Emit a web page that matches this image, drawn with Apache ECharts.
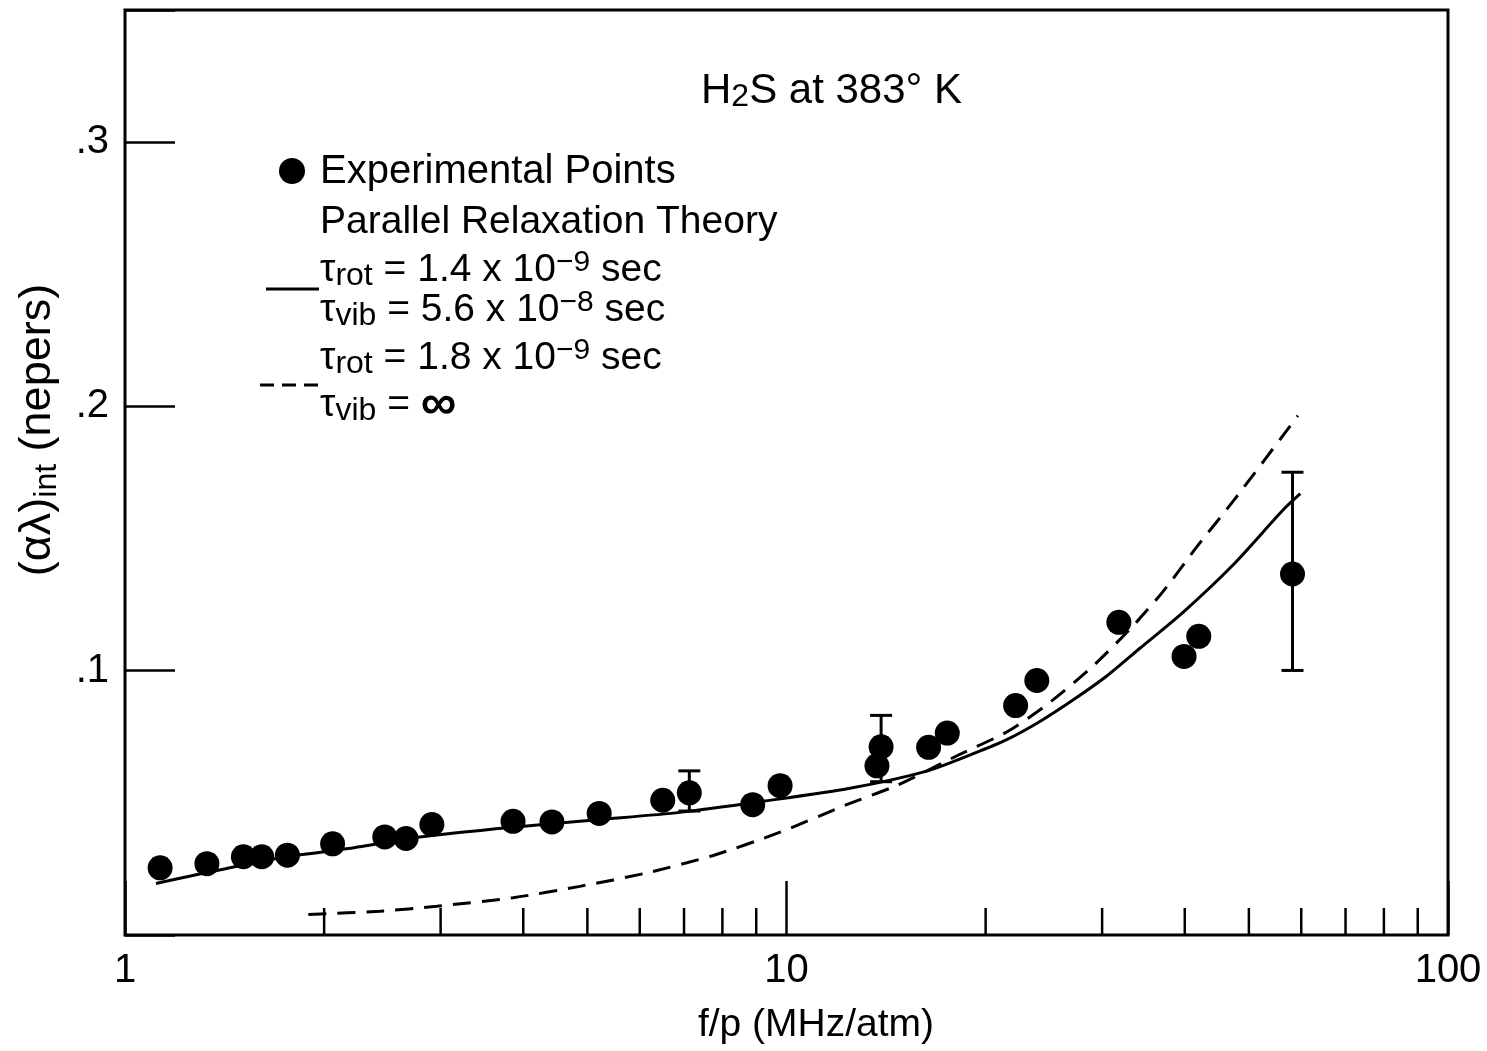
<!DOCTYPE html>
<html>
<head>
<meta charset="utf-8">
<title>H2S at 383 K</title>
<script src="https://cdn.jsdelivr.net/npm/echarts@6/dist/echarts.min.js"></script>
<style>
html, body { margin: 0; padding: 0; background: #fff; }
#chart { width: 1487px; height: 1051px; }
</style>
</head>
<body>
<div id="chart"></div>
<script>
// experimental points: f/p (MHz/atm) and (alpha lambda)int (nepers)
let expFreq = [1.13, 1.33, 1.51, 1.61, 1.76, 2.06, 2.47, 2.66, 2.91, 3.86, 4.42, 5.21, 6.50, 7.13, 8.89, 9.78, 13.7, 13.9, 16.4, 17.5, 22.2, 23.9, 31.8, 39.9, 42.0, 58.2]
let expAtten = [0.0254, 0.0270, 0.0296, 0.0296, 0.0302, 0.0345, 0.0371, 0.0365, 0.0418, 0.0430, 0.0428, 0.0460, 0.0510, 0.0538, 0.0493, 0.0565, 0.0640, 0.0712, 0.0710, 0.0764, 0.0868, 0.0963, 0.1183, 0.1054, 0.1130, 0.1366]

// error bars
let errFreq = [7.13, 13.9, 58.2]
let errLow = [0.0469, 0.0580, 0.1001]
let errHigh = [0.0621, 0.0831, 0.1751]

// theory, trot = 1.4e-9, tvib = 5.6e-8 (solid)
let solidFreq = [1.114, 1.715, 2.16, 2.79, 3.86, 5.23, 6.90, 9.22, 12.47, 16.29, 19.16, 21.52, 24.16, 27.14, 30.49, 34.22, 39.8, 47.35, 56.4, 59.8]
let solidAtten = [0.0195, 0.0292, 0.0326, 0.0371, 0.0408, 0.0437, 0.0464, 0.0506, 0.0555, 0.0620, 0.0686, 0.0739, 0.0808, 0.0890, 0.0980, 0.1085, 0.1222, 0.1401, 0.1610, 0.1670]

// theory, trot = 1.8e-9, tvib = inf (dashed)
let dashFreq = [1.893, 2.43, 2.96, 3.86, 4.87, 6.15, 7.75, 9.78, 12.33, 14.68, 18.23, 21.52, 24.68, 28.84, 33.13, 37.1, 41.9, 47.6, 59.3]
let dashAtten = [0.0078, 0.0090, 0.0109, 0.0141, 0.0184, 0.0235, 0.0301, 0.0389, 0.0493, 0.0566, 0.0682, 0.0768, 0.0869, 0.1010, 0.1160, 0.1300, 0.1475, 0.1649, 0.1965]

let yTickLabels = ['.1', '.2', '.3']
let minorTicks = [2, 3, 4, 5, 6, 7, 8, 9, 20, 30, 40, 50, 60, 70, 80, 90]

let font = 'Liberation Sans'
let richStyle = {
  sub: {fontSize: 32, lineHeight: 16, verticalAlign: 'bottom', fontFamily: font, fill: '#000'},
  sup: {fontSize: 30, lineHeight: 16, verticalAlign: 'top', fontFamily: font, fill: '#000'},
  inf: {fontSize: 50, fontWeight: 'bold', fontFamily: font, fill: '#000'}
}

function zip(a, b) {
  return a.map((v, i) => [v, b[i]])
}

function txt(x, y, text, size) {
  return {
    type: 'text', x: x, y: y, z: 10,
    style: {
      text: text, fontSize: size || 39, fontFamily: font, fill: '#000',
      align: 'left', verticalAlign: 'middle', lineHeight: 44, rich: richStyle
    }
  }
}

let chart = echarts.init(document.getElementById('chart'))
let option = {
  animation: false,
  backgroundColor: '#fff',
  grid: {
    left: 125, right: 39, top: 10, bottom: 116,
    show: true, borderColor: '#000', borderWidth: 3
  },
  xAxis: {
    type: 'log', logBase: 10, min: 1, max: 100,
    axisLine: {show: false},
    axisTick: {inside: true, length: 54, lineStyle: {color: '#000', width: 2.5}},
    axisLabel: {fontSize: 40, fontFamily: font, color: '#000', margin: 16},
    splitLine: {show: false}
  },
  yAxis: {
    type: 'value', min: 0, max: 0.35, interval: 0.1,
    axisLine: {show: false},
    axisTick: {inside: true, length: 50, lineStyle: {color: '#000', width: 2.5}},
    axisLabel: {
      fontSize: 40, fontFamily: font, color: '#000', margin: 16,
      formatter: function (v) {
        let i = Math.round(v * 10) - 1
        return (Math.abs(v * 10 - Math.round(v * 10)) < 1e-6 && i >= 0 && i < 3) ? yTickLabels[i] : ''
      }
    },
    splitLine: {show: false}
  },
  series: [
    {
      type: 'custom',
      data: minorTicks.map(v => [v, 0]),
      encode: {x: 0, y: 1},
      silent: true,
      renderItem: function (params, api) {
        let p = api.coord([api.value(0), 0])
        return {
          type: 'line',
          shape: {x1: p[0], y1: p[1], x2: p[0], y2: p[1] - 27},
          style: {stroke: '#000', lineWidth: 2.5}
        }
      }
    },
    {
      type: 'line',
      data: zip(solidFreq, solidAtten),
      showSymbol: false, smooth: 0.25,
      lineStyle: {color: '#000', width: 3}
    },
    {
      type: 'line',
      data: zip(dashFreq, dashAtten),
      showSymbol: false, smooth: 0.25,
      lineStyle: {color: '#000', width: 3, type: [18, 11]}
    },
    {
      type: 'custom',
      data: errFreq.map((v, i) => [v, errLow[i], errHigh[i]]),
      encode: {x: 0, y: [1, 2]},
      z: 4,
      renderItem: function (params, api) {
        let lo = api.coord([api.value(0), api.value(1)])
        let hi = api.coord([api.value(0), api.value(2)])
        let w = 11
        let st = {stroke: '#000', lineWidth: 3}
        return {
          type: 'group',
          children: [
            {type: 'line', shape: {x1: lo[0], y1: lo[1], x2: hi[0], y2: hi[1]}, style: st},
            {type: 'line', shape: {x1: hi[0] - w, y1: hi[1], x2: hi[0] + w, y2: hi[1]}, style: st},
            {type: 'line', shape: {x1: lo[0] - w, y1: lo[1], x2: lo[0] + w, y2: lo[1]}, style: st}
          ]
        }
      }
    },
    {
      type: 'scatter',
      data: zip(expFreq, expAtten),
      symbol: 'circle', symbolSize: 25,
      itemStyle: {color: '#000', opacity: 1},
      z: 5
    }
  ],
  graphic: [
    txt(701, 91, 'H{sub|2}S at 383° K', 42),
    {type: 'circle', z: 10, shape: {cx: 292, cy: 171, r: 13}, style: {fill: '#000'}},
    txt(320, 172, 'Experimental Points', 40),
    txt(320, 222, 'Parallel Relaxation Theory'),
    txt(320, 270, 'τ{sub|rot} = 1.4 x 10{sup|−9} sec'),
    txt(320, 310, 'τ{sub|vib} = 5.6 x 10{sup|−8} sec'),
    txt(320, 358, 'τ{sub|rot} = 1.8 x 10{sup|−9} sec'),
    txt(320, 405, 'τ{sub|vib} = {inf|∞}'),
    {type: 'line', z: 10, shape: {x1: 266, y1: 289, x2: 319, y2: 289}, style: {stroke: '#000', lineWidth: 3}},
    {type: 'line', z: 10, shape: {x1: 260, y1: 385, x2: 319, y2: 385}, style: {stroke: '#000', lineWidth: 3, lineDash: [14, 8]}},
    {
      type: 'text', x: 816, y: 1025, z: 10,
      style: {text: 'f/p (MHz/atm)', fontSize: 39, fontFamily: font, fill: '#000', align: 'center', verticalAlign: 'middle'}
    },
    {
      type: 'text', x: 38, y: 430, z: 10, rotation: Math.PI / 2,
      style: {
        text: '(αλ){sub|int} (nepers)', fontSize: 45, fontFamily: font, fill: '#000',
        align: 'center', verticalAlign: 'middle', lineHeight: 50, rich: richStyle
      }
    }
  ]
}
chart.setOption(option)
</script>
</body>
</html>
